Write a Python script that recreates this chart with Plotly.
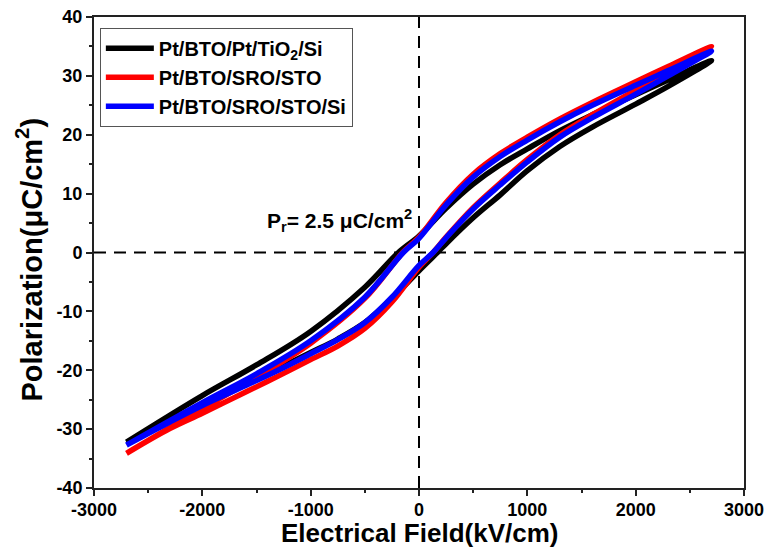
import plotly.graph_objects as go

# Upper branch (field sweeping down), lower branch (field sweeping up)
E_black_up = [2700, 2300, 2000, 1600, 1300, 1000, 750, 500, 250, 0, -190, -500, -1000, -1500, -2000, -2700]
P_black_up = [32.6, 29.3, 26.8, 23.4, 20.7, 17.6, 14.9, 11.6, 7.5, 2.8, 0.0, -5.9, -13.4, -19.1, -24.3, -32.2]
E_black_lo = [-2700, -2300, -2000, -1600, -1300, -1000, -750, -500, -250, 0, 170, 250, 500, 750, 1000, 1300, 1600, 2000, 2300, 2700]
P_black_lo = [-32.2, -28.6, -25.8, -22.3, -19.7, -17.0, -14.7, -11.9, -7.8, -3.1, 0.0, 1.5, 5.9, 9.8, 13.9, 18.0, 21.3, 25.2, 28.2, 32.6]

E_red_up = [2700, 2300, 2000, 1600, 1300, 1000, 750, 500, 250, 0, -150, -500, -1000, -1500, -2000, -2700]
P_red_up = [35.0, 31.6, 29.0, 25.5, 22.7, 19.6, 16.8, 13.3, 8.5, 2.6, 0.0, -7.8, -15.4, -21.2, -26.5, -34.1]
E_red_lo = [-2700, -2300, -2000, -1600, -1300, -1000, -750, -500, -250, 0, 130, 250, 500, 750, 1000, 1300, 1600, 2000, 2300, 2700]
P_red_lo = [-34.1, -29.9, -27.3, -23.7, -21.0, -18.2, -15.9, -12.9, -8.4, -2.5, 0.0, 2.6, 7.6, 11.8, 15.8, 20.0, 23.4, 27.6, 30.8, 35.0]

E_blue_up = [2700, 2300, 2000, 1600, 1300, 1000, 750, 500, 250, 0, -145, -500, -1000, -1500, -2000, -2700]
P_blue_up = [34.2, 30.9, 28.4, 25.0, 22.2, 19.1, 16.3, 12.8, 8.1, 2.4, 0.0, -7.6, -15.0, -20.6, -25.5, -32.7]
E_blue_lo = [-2700, -2300, -2000, -1600, -1300, -1000, -750, -500, -250, 0, 130, 250, 500, 750, 1000, 1300, 1600, 2000, 2300, 2700]
P_blue_lo = [-32.7, -28.8, -26.0, -22.6, -20.0, -17.2, -14.8, -11.9, -7.6, -2.2, 0.0, 2.5, 7.4, 11.5, 15.4, 19.6, 22.9, 26.9, 30.0, 34.2]

names = ["Pt/BTO/Pt/TiO<sub>2</sub>/Si", "Pt/BTO/SRO/STO", "Pt/BTO/SRO/STO/Si"]
colors = ["#000000", "#ff0000", "#0000ff"]
x_ticks = [-3000, -2000, -1000, 0, 1000, 2000, 3000]
x_tick_labels = ["-3000", "-2000", "-1000", "0", "1000", "2000", "3000"]
y_ticks = [-40, -30, -20, -10, 0, 10, 20, 30, 40]
y_tick_labels = ["-40", "-30", "-20", "-10", "0", "10", "20", "30", "40"]

series = [
    (E_black_up + E_black_lo, P_black_up + P_black_lo),
    (E_red_up + E_red_lo, P_red_up + P_red_lo),
    (E_blue_up + E_blue_lo, P_blue_up + P_blue_lo),
]

FONT = "Arial, Liberation Sans, sans-serif"

fig = go.Figure()
for (xs, ys), name, col in zip(series, names, colors):
    fig.add_trace(go.Scatter(
        x=xs, y=ys, mode="lines", name=name,
        line=dict(color=col, width=5.5, shape="spline", smoothing=1.0),
    ))

# dashed reference lines
fig.add_shape(type="line", xref="x", yref="y", x0=-3000, x1=3000, y0=0, y1=0,
              line=dict(color="black", width=2, dash="12px,8px"), layer="below")
fig.add_shape(type="line", xref="x", yref="y", x0=0, x1=0, y0=-40, y1=40,
              line=dict(color="black", width=2, dash="12px,8px"), layer="below")

fig.add_annotation(
    x=-50, y=2.6, xref="x", yref="y", xanchor="right", yanchor="bottom",
    text="P<sub>r</sub>= 2.5 μC/cm<sup>2</sup>", showarrow=False,
    font=dict(family=FONT, size=21, color="black", weight="bold"),
)

# axis titles
fig.add_annotation(
    x=0.5, y=-0.1316, xref="paper", yref="paper", xanchor="center", yanchor="bottom",
    text="Electrical Field(kV/cm)", showarrow=False,
    font=dict(family=FONT, size=26, color="black", weight="bold"),
)
fig.add_annotation(
    x=-0.1, y=0.485, xref="paper", yref="paper", xanchor="center", yanchor="middle",
    text="Polarization(μC/cm<sup>2</sup>)", showarrow=False, textangle=-90,
    font=dict(family=FONT, size=29, color="black", weight="bold"),
)

axis_common = dict(
    showline=True, linecolor="#222", linewidth=2, mirror=True,
    ticks="outside", ticklen=6, tickwidth=2, tickcolor="#222",
    showgrid=False, zeroline=False, automargin=False,
    tickfont=dict(family=FONT, size=18, color="black", weight="bold"),
)

fig.update_xaxes(
    range=[-3000, 3000], tickvals=x_ticks, ticktext=x_tick_labels,
    ticklabelstandoff=-2,
    minor=dict(ticks="outside", ticklen=3, tickwidth=2, tickcolor="#222", dtick=500, tick0=0),
    **axis_common,
)
fig.update_yaxes(
    range=[-40, 40], tickvals=y_ticks, ticktext=y_tick_labels,
    minor=dict(ticks="outside", ticklen=3, tickwidth=2, tickcolor="#222", dtick=5, tick0=0),
    **axis_common,
)

fig.update_layout(
    width=772, height=550,
    margin=dict(l=94, r=28, t=17, b=62),
    plot_bgcolor="white", paper_bgcolor="white",
    legend=dict(
        x=0.009, y=0.977, xanchor="left", yanchor="top",
        bordercolor="#555", borderwidth=1, bgcolor="white",
        font=dict(family=FONT, size=20, color="black", weight="bold"),
        tracegroupgap=0, itemwidth=48,
    ),
    showlegend=True,
)

fig.write_html(
    "out.html",
    config={"displayModeBar": False},
    post_script="document.body.style.margin='0';document.body.style.overflow='hidden';",
)
